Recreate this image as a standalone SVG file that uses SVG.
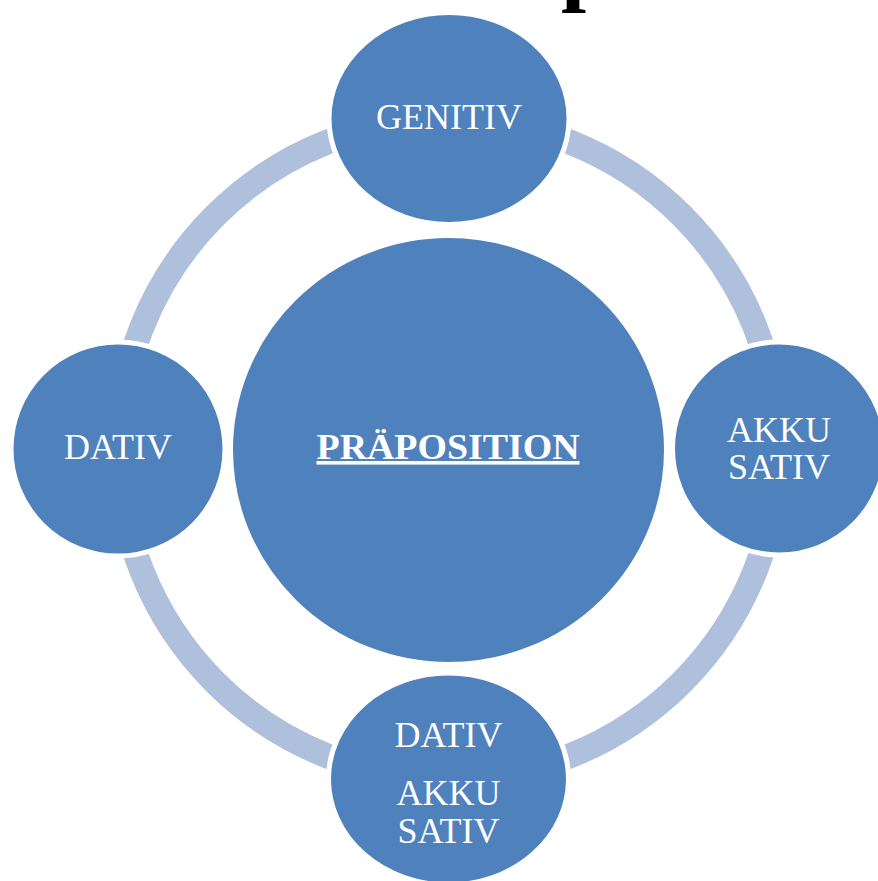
<svg xmlns="http://www.w3.org/2000/svg" width="878" height="881" viewBox="0 0 878 881">
<style>
.sat{fill:#4F81BD;stroke:#FFFFFF;stroke-width:5}
.ctr{fill:#4F81BD;stroke:#FFFFFF;stroke-width:3}
.lbl{font-family:"Liberation Serif","Times New Roman",serif;fill:#FFFFFF;text-anchor:middle;font-size:36px}
</style>
<rect width="878" height="881" fill="#FFFFFF"/>
<text x="561" y="-6" font-family="Liberation Serif, serif" font-weight="bold" font-size="90" fill="#000000">p</text>
<g id="connectors">
<circle cx="448.5" cy="449" r="330" fill="none" stroke="#AFC0DD" stroke-width="25"/>
</g>
<g id="center">
<ellipse class="ctr" cx="448.5" cy="450" rx="217" ry="213.5"/>
<text class="lbl" x="448" y="459" font-weight="bold" font-size="42" textLength="263" lengthAdjust="spacingAndGlyphs" text-decoration="underline">PRÄPOSITION</text>
</g>
<g id="genitiv">
<ellipse class="sat" cx="449" cy="118.5" rx="120" ry="106"/>
<text class="lbl" x="449" y="129">GENITIV</text>
</g>
<g id="akkusativ">
<circle class="sat" cx="779" cy="448.5" r="106.5"/>
<text class="lbl" x="779" y="442">AKKU</text>
<text class="lbl" x="779" y="479">SATIV</text>
</g>
<g id="dativ">
<circle class="sat" cx="118" cy="449" r="107"/>
<text class="lbl" x="118" y="459" font-size="35">DATIV</text>
</g>
<g id="dativ-akkusativ">
<ellipse class="sat" cx="448.5" cy="779" rx="120" ry="106"/>
<text class="lbl" x="448.5" y="747" font-size="35">DATIV</text>
<text class="lbl" x="448.5" y="805">AKKU</text>
<text class="lbl" x="448.5" y="843">SATIV</text>
</g>
</svg>
